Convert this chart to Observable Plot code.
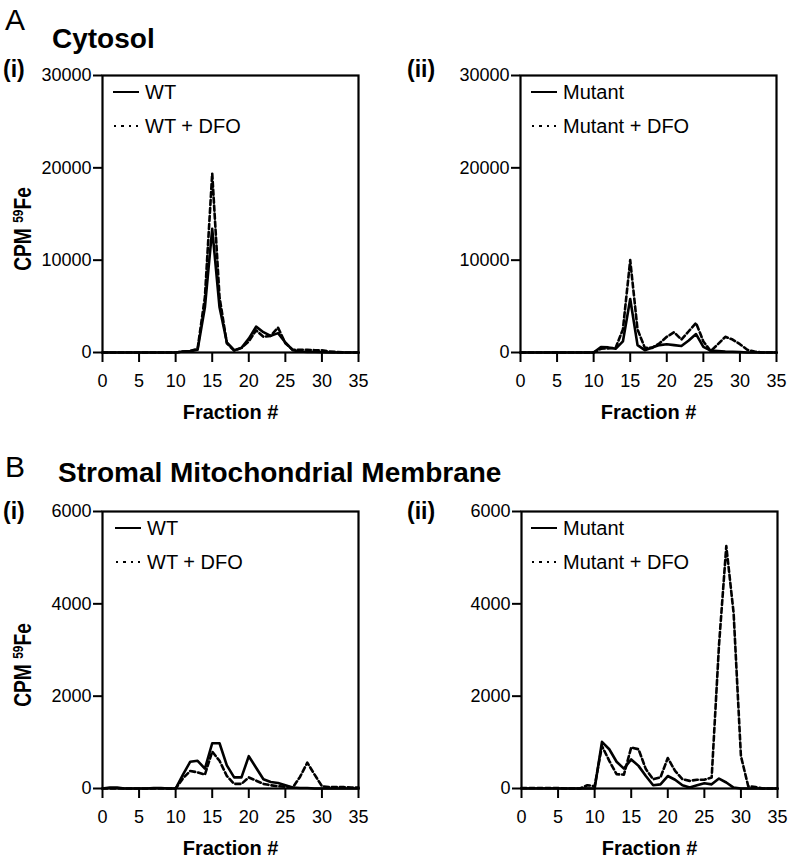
<!DOCTYPE html>
<html>
<head>
<meta charset="utf-8">
<script src="https://cdn.jsdelivr.net/npm/d3@7"></script>
<script src="https://cdn.jsdelivr.net/npm/@observablehq/plot@0.6"></script>
<style>
  html, body { margin: 0; padding: 0; background: #fff; }
  #root { position: relative; width: 793px; height: 868px; overflow: hidden; font-family: "Liberation Sans", Arial, Helvetica, sans-serif; color: #000; }
  .abs { position: absolute; white-space: nowrap; line-height: 1; }
  .plotbox { position: absolute; }
  g[aria-label="x-axis label"] text, g[aria-label="x-axis label"] { font-weight: bold; font-size: 20px; }
</style>
</head>
<body>
<div id="root"></div>
<script>
// ---------- data ----------
const fractions = [0,1,2,3,4,5,6,7,8,9,10,11,12,13,14,15,16,17,18,19,20,21,22,23,24,25,26,27,28,29,30,31,32,33,34,35];

// A (i) Cytosol, WT
const cytosolWT =      [0,0,0,0,0,0,0,0,0,0, 0,100,150,300,4900,13400,4900,1100,250,500, 1500,2800,2200,1800,2100,1100,250,100,50,50, 30,0,0,0,0,0];
const cytosolWTDFO =   [0,0,0,0,0,0,0,0,0,0, 0,100,150,400,6000,19400,6000,1000,200,500, 1200,2400,1700,1800,2700,1000,300,300,300,250, 250,100,50,0,0,0];
// A (ii) Cytosol, Mutant
const cytosolMut =     [0,0,0,0,0,0,0,0,0,0, 0,600,550,400,1200,5800,800,250,550,800, 900,800,700,1300,2000,600,200,150,100,80, 50,0,0,0,0,0];
const cytosolMutDFO =  [0,0,0,0,0,0,0,0,0,0, 0,400,450,500,2500,10000,2500,500,500,1000, 1700,2200,1400,2300,3200,1200,150,900,1700,1400, 900,300,100,0,0,0];
// B (i) Stromal mitochondrial membrane, WT
const membraneWT =     [0,20,20,0,0,0,0,10,10,0, 0,300,580,600,430,980,980,500,240,240, 700,450,200,140,120,70,20,10,10,0, 0,0,0,0,0,0];
const membraneWTDFO =  [0,0,0,0,0,0,0,0,0,0, 0,220,380,350,300,800,600,270,100,100, 240,170,100,70,50,40,20,250,560,300, 50,30,30,30,20,20];
// B (ii) Stromal mitochondrial membrane, Mutant
const membraneMut =    [0,0,0,0,0,0,0,0,0,0, 0,1010,850,580,430,630,490,270,70,90, 270,190,70,20,70,115,90,215,130,20, 0,0,0,0,0,0];
const membraneMutDFO = [10,10,10,10,10,10,0,0,0,70, 50,920,600,310,300,890,850,420,200,240, 660,380,200,165,190,190,240,3100,5250,3800, 700,50,30,0,0,0];

const xTicks = [0,5,10,15,20,25,30,35];
const yTicksA = [0,10000,20000,30000];
const yTicksB = [0,2000,4000,6000];

const legendWT = ["WT", "WT + DFO"];
const legendMut = ["Mutant", "Mutant + DFO"];
const xLabel = "Fraction #";

// ---------- drawing ----------
const root = document.getElementById("root");
const FONT = "'Liberation Sans', Arial, Helvetica, sans-serif";

function rows(vals) {
  return fractions.map((f, i) => ({fraction: f, cpm: vals[i]}));
}

function panel(solid, dashed, yTicks, ml, mr) {
  return Plot.plot({
    width: ml + 256 + mr,
    height: 380,
    marginLeft: ml, marginRight: mr, marginTop: 20, marginBottom: 83,
    style: {background: "transparent", fontFamily: FONT, fontSize: "18px", color: "#000", overflow: "visible"},
    x: {domain: [0, 35]},
    y: {domain: [0, yTicks[yTicks.length - 1]]},
    marks: [
      Plot.axisX({ticks: xTicks, tickSize: 10, tickPadding: 12, strokeWidth: 2, tickFormat: d3.format("d"),
                  label: xLabel, labelAnchor: "center", labelArrow: false, labelOffset: 66}),
      Plot.axisY({ticks: yTicks, tickSize: 9, tickPadding: 2, strokeWidth: 2, tickFormat: d3.format("d"), label: null}),
      Plot.line(rows(dashed), {x: "fraction", y: "cpm", stroke: "#000", strokeWidth: 2.6, strokeDasharray: "5,3"}),
      Plot.line(rows(solid), {x: "fraction", y: "cpm", stroke: "#000", strokeWidth: 2.6}),
      Plot.frame({stroke: "#000", strokeWidth: 2.2})
    ]
  });
}

function place(el, left, top) {
  const d = document.createElement("div");
  d.className = "plotbox";
  d.style.left = left + "px";
  d.style.top = top + "px";
  d.appendChild(el);
  root.appendChild(d);
}

// text with baseline at y (Liberation Sans, line-height 1)
function text(str, x, baseline, size, weight) {
  const d = document.createElement("div");
  d.className = "abs";
  d.textContent = str;
  d.style.left = x + "px";
  d.style.top = (baseline - 0.8465 * size) + "px";
  d.style.fontSize = size + "px";
  d.style.fontWeight = weight || "normal";
  root.appendChild(d);
  return d;
}

function legend(labels, x, cy) {
  // solid swatch
  const s = document.createElement("div");
  s.className = "abs";
  Object.assign(s.style, {left: x + "px", top: (cy - 1.3) + "px", width: "26px", height: "2.6px", background: "#000"});
  root.appendChild(s);
  // dotted swatch
  const t = document.createElement("div");
  t.className = "abs";
  Object.assign(t.style, {left: (x + 1) + "px", top: (cy + 34 - 1.2) + "px", width: "26px", height: "2.4px",
    background: "repeating-linear-gradient(to right, #000 0 2.4px, transparent 2.4px 7.3px)"});
  root.appendChild(t);
  text(labels[0], x + 32, cy + 7.2, 20);
  text(labels[1], x + 32, cy + 34 + 7.2, 20);
}

function yLabel(cx, cy) {
  const d = document.createElement("div");
  d.className = "abs";
  d.innerHTML = "CPM <sup style='font-size:0.62em;vertical-align:0.55em'>59</sup>Fe";
  Object.assign(d.style, {left: cx + "px", top: cy + "px", fontSize: "24px", fontWeight: "bold",
    transform: "translate(-50%,-50%) rotate(-90deg) scaleX(0.8)", transformOrigin: "50% 50%"});
  root.appendChild(d);
}

// Panels
place(panel(cytosolWT, cytosolWTDFO, yTicksA, 102, 30), 0, 55);
place(panel(cytosolMut, cytosolMutDFO, yTicksA, 120, 17), 400, 55);
place(panel(membraneWT, membraneWTDFO, yTicksB, 102, 30), 0, 491);
place(panel(membraneMut, membraneMutDFO, yTicksB, 121, 16), 400, 491);

// Titles
text("A", 5, 30, 30);
text("Cytosol", 52, 49, 28, "bold");
text("(i)", 3, 77, 23, "bold");
text("(ii)", 407, 77, 23, "bold");
text("B", 5, 477, 30);
text("Stromal Mitochondrial Membrane", 58, 483, 28, "bold");
text("(i)", 3, 519, 23, "bold");
text("(ii)", 407, 519, 23, "bold");

// Legends
legend(legendWT, 113, 92);
legend(legendMut, 531, 92);
legend(legendWT, 115, 528);
legend(legendMut, 531, 528);

// Y labels
yLabel(23, 229);
yLabel(23, 665);
</script>
</body>
</html>
